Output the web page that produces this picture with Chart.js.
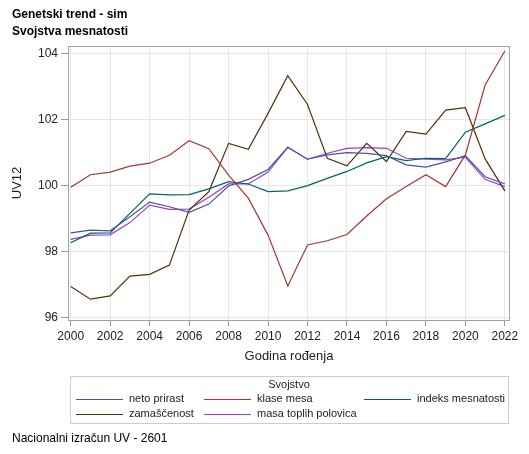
<!DOCTYPE html>
<html>
<head>
<meta charset="utf-8">
<script src="https://cdn.jsdelivr.net/npm/chart.js@4.4.1/dist/chart.umd.min.js"></script>
<style>
  html, body { margin: 0; padding: 0; background: #fff; }
  canvas { display: block; }
</style>
</head>
<body>
<canvas id="myChart" width="529" height="454"></canvas>
<script>
const years = [2000, 2001, 2002, 2003, 2004, 2005, 2006, 2007, 2008, 2009, 2010, 2011,
               2012, 2013, 2014, 2015, 2016, 2017, 2018, 2019, 2020, 2021, 2022];
const xTicks = [2000, 2002, 2004, 2006, 2008, 2010, 2012, 2014, 2016, 2018, 2020, 2022];
const yTicks = [96, 98, 100, 102, 104];

const netoPrirast = [98.56, 98.64, 98.62, 99.05, 99.49, 99.35, 99.18, 99.43, 99.98, 100.18, 100.48, 101.15,
                     100.79, 100.92, 100.99, 100.97, 100.90, 100.62, 100.55, 100.71, 100.90, 100.26, 100.04];
const klaseMesa = [99.94, 100.32, 100.40, 100.58, 100.67, 100.91, 101.35, 101.11, 100.31, 99.61, 98.49, 96.95,
                   98.19, 98.32, 98.51, 99.07, 99.59, 99.96, 100.32, 99.96, 100.92, 103.04, 104.07];
const indeksMesnatosti = [98.26, 98.55, 98.56, 99.15, 99.74, 99.71, 99.72, 99.89, 100.11, 100.04, 99.81, 99.83,
                          99.99, 100.21, 100.42, 100.68, 100.87, 100.75, 100.82, 100.81, 101.61, 101.86, 102.12];
const zamascenost = [96.93, 96.55, 96.65, 97.25, 97.30, 97.58, 99.25, 99.81, 101.27, 101.09, 102.18, 103.32,
                     102.45, 100.82, 100.59, 101.27, 100.72, 101.63, 101.55, 102.28, 102.35, 100.80, 99.83];
const masaToplihPolovica = [98.36, 98.49, 98.50, 98.87, 99.40, 99.27, 99.28, 99.64, 100.04, 100.04, 100.40, 101.15,
                            100.79, 100.97, 101.12, 101.14, 101.12, 100.82, 100.79, 100.77, 100.85, 100.18, 99.96];

const seriesNames = ['neto prirast', 'klase mesa', 'indeks mesnatosti', 'zamaščenost', 'masa toplih polovica'];
const seriesData = [netoPrirast, klaseMesa, indeksMesnatosti, zamascenost, masaToplihPolovica];
const seriesColors = ['#445694', '#A23A2E', '#01665E', '#543005', '#9D3CDB'];

const FONT = "'Liberation Sans', Arial, sans-serif";

const toPoints = (vals) => years.map((x, i) => ({ x: x, y: vals[i] }));

// titles, frame, legend box and footnote
const decorations = {
    id: 'decorations',
    afterDraw(chart) {
        const ctx = chart.ctx;
        const area = chart.chartArea;
        ctx.save();

        ctx.strokeStyle = '#A0A4A8';
        ctx.lineWidth = 1;
        ctx.strokeRect(Math.round(area.left) + 0.5, Math.round(area.top) + 0.5,
                       Math.round(area.right - area.left) - 1, Math.round(area.bottom - area.top));

        ctx.fillStyle = '#000';
        ctx.textAlign = 'left';
        ctx.textBaseline = 'middle';
        ctx.font = 'bold 12px ' + FONT;
        ctx.fillText('Genetski trend - sim', 12, 15);
        ctx.fillText('Svojstva mesnatosti', 12, 32);

        ctx.strokeStyle = '#CCCCCC';
        ctx.strokeRect(70.5, 376.5, 438, 47);
        ctx.font = '11px ' + FONT;
        ctx.fillStyle = '#222';
        ctx.textAlign = 'center';
        ctx.fillText('Svojstvo', 289, 384.5);

        const cols = [76, 204, 364];
        const rows = [398.5, 414];
        ctx.textAlign = 'left';
        chart.data.datasets.forEach((ds, i) => {
            const x = cols[i % 3];
            const y = rows[Math.floor(i / 3)];
            ctx.strokeStyle = ds.borderColor;
            ctx.lineWidth = 1.2;
            ctx.beginPath();
            ctx.moveTo(x, Math.round(y) + 0.5);
            ctx.lineTo(x + 47, Math.round(y) + 0.5);
            ctx.stroke();
            ctx.fillStyle = '#222';
            ctx.fillText(ds.label, x + 53, y);
        });

        ctx.font = '12px ' + FONT;
        ctx.fillStyle = '#000';
        ctx.fillText('Nacionalni izračun UV - 2601', 12, 439);
        ctx.restore();
    }
};

const ctx = document.getElementById('myChart');
new Chart(ctx, {
    type: 'line',
    data: {
        datasets: seriesNames.map((name, i) => ({
            label: name,
            data: toPoints(seriesData[i]),
            borderColor: seriesColors[i],
            borderWidth: 1.2,
            pointRadius: 0,
            tension: 0,
            fill: false
        }))
    },
    options: {
        responsive: false,
        animation: false,
        layout: {
            padding: { left: 0, right: 19, top: 46, bottom: 84 }
        },
        plugins: {
            legend: { display: false },
            tooltip: { enabled: false },
            title: { display: false }
        },
        scales: {
            x: {
                type: 'linear',
                min: 1999.863,
                max: 2022.26,
                afterBuildTicks: (scale) => { scale.ticks = xTicks.map(v => ({ value: v })); },
                afterFit: (scale) => { scale.height = 50; },
                ticks: {
                    callback: (v) => String(v),
                    color: '#222',
                    padding: 3,
                    maxRotation: 0,
                    autoSkip: false,
                    font: { family: FONT, size: 12 }
                },
                grid: { color: '#E6E6E6', tickColor: '#999', tickLength: 6 },
                border: { display: false },
                title: {
                    display: true,
                    text: 'Godina rođenja',
                    color: '#222',
                    padding: { top: 0, bottom: 6 },
                    font: { family: FONT, size: 13 }
                }
            },
            y: {
                min: 95.918,
                max: 104.221,
                afterBuildTicks: (scale) => { scale.ticks = yTicks.map(v => ({ value: v })); },
                afterFit: (scale) => { scale.width = 68; },
                ticks: {
                    callback: (v) => String(v),
                    color: '#222',
                    padding: 3,
                    font: { family: FONT, size: 12 }
                },
                grid: { color: '#E6E6E6', tickColor: '#999', tickLength: 7 },
                border: { display: false },
                title: {
                    display: true,
                    text: 'UV12',
                    color: '#222',
                    padding: { top: 10, bottom: 0 },
                    font: { family: FONT, size: 13 }
                }
            }
        }
    },
    plugins: [decorations]
});
</script>
</body>
</html>
